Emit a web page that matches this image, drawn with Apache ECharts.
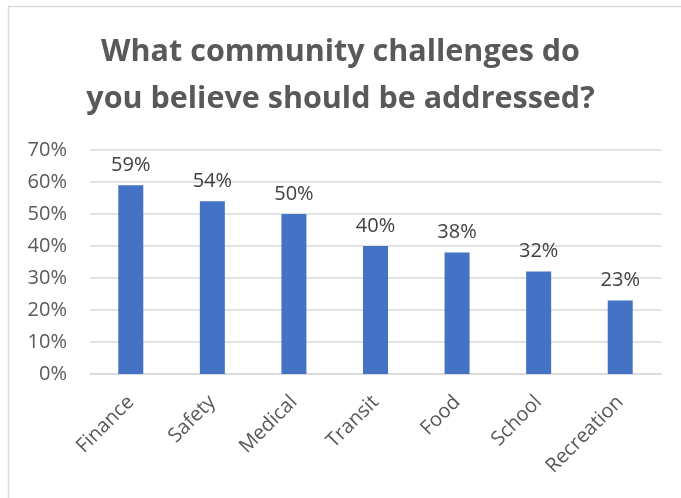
<!DOCTYPE html>
<html><head><meta charset="utf-8">
<script src="https://cdn.jsdelivr.net/npm/echarts@6/dist/echarts.min.js"></script>
<style>html,body{margin:0;padding:0;background:#fff}#c{width:681px;height:498px}</style>
</head><body><div id="c"></div>
<script>
const categories = ["Finance","Safety","Medical","Transit","Food","School","Recreation"];
const values = [59,54,50,40,38,32,23];
const yTicks = [0,10,20,30,40,50,60,70];
const titleText = "What community challenges do\nyou believe should be addressed?";
const chart = echarts.init(document.getElementById('c'));
chart.setOption({
  animation:false,
  graphic:[{type:'rect',shape:{x:8.5,y:6.5,width:700,height:520},style:{fill:'none',stroke:'#d9d9d9',lineWidth:1.5},silent:true}],
  title:{text:titleText,left:'center',top:24,textStyle:{fontFamily:'Open Sans',fontWeight:'bold',fontSize:30.5,color:'#595959',lineHeight:47}},
  grid:{left:90,right:20,top:150,bottom:124,containLabel:false},
  xAxis:{type:'category',data:categories,axisLine:{lineStyle:{color:'#d9d9d9',width:1.5}},axisTick:{show:false},
    axisLabel:{rotate:45,fontFamily:'Open Sans',fontSize:20,color:'#595959',margin:25,interval:0}},
  yAxis:{type:'value',min:0,max:70,interval:10,axisLine:{show:false},axisTick:{show:false},
    splitLine:{lineStyle:{color:'#d9d9d9',width:1.5}},
    axisLabel:{formatter:v=>v+'%',fontFamily:'Open Sans',fontSize:20,color:'#595959',margin:23}},
  series:[{type:'bar',data:values,barWidth:25,itemStyle:{color:'#4472C4'},
    label:{show:true,position:'top',distance:10,formatter:p=>p.value+'%',fontFamily:'Open Sans',fontSize:20,color:'#404040'}}]
});
</script></body></html>
